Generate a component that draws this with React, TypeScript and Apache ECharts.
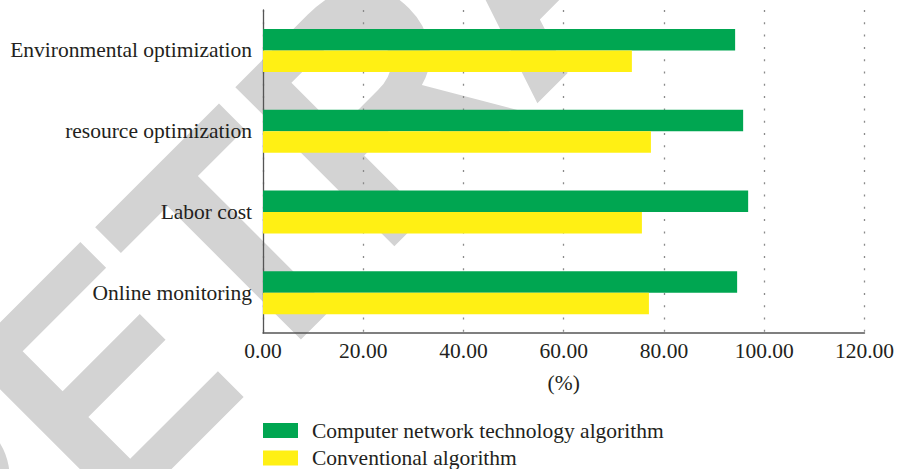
import React, { useEffect, useRef } from "react";
import * as echarts from "echarts";

const categories = [
  "Environmental optimization",
  "resource optimization",
  "Labor cost",
  "Online monitoring",
];
const seriesNames = ["Computer network technology algorithm", "Conventional algorithm"];
const networkValues = [94.2, 95.8, 96.8, 94.6];
const conventionalValues = [73.6, 77.4, 75.6, 77.0];
const xTicks = { min: 0, max: 120, interval: 20 };
const watermarkText = "RETRACTED";

const SERIF = "Liberation Serif, Times New Roman, serif";
const TEXT = "#231f20";
const FS = 21.5;

export default function App() {
  const ref = useRef<HTMLDivElement>(null);
  useEffect(() => {
    document.body.style.margin = "0";
    if (!ref.current) return;
    const chart = echarts.init(ref.current, undefined, { renderer: "svg" });
    chart.setOption({
      animation: false,
      backgroundColor: "#ffffff",
      graphic: {
        z: -100,
        elements: [
          {
            type: "text",
            z: -100,
            silent: true,
            x: -120.5,
            y: 600.5,
            rotation: Math.PI / 4,
            scaleX: 0.91,
            scaleY: 1,
            style: {
              text: watermarkText,
              fontFamily: "Liberation Sans, Arial, sans-serif",
              fontWeight: "bold",
              fontSize: 327,
              fill: "#d3d3d3",
              align: "left",
              verticalAlign: "middle",
            },
          },
        ],
      },
      grid: { left: 263, right: 29, top: 10, bottom: 136, containLabel: false },
      legend: {
        orient: "vertical",
        left: 263,
        top: 419.5,
        height: 80,
        padding: 0,
        itemWidth: 35,
        itemHeight: 15,
        itemGap: 5.5,
        icon: "rect",
        textStyle: { fontFamily: SERIF, fontSize: FS, color: TEXT, padding: [0, 0, 0, 9] },
        data: seriesNames,
      },
      xAxis: {
        type: "value",
        min: xTicks.min,
        max: xTicks.max,
        interval: xTicks.interval,
        name: "(%)",
        nameLocation: "middle",
        nameGap: 39,
        nameTextStyle: { fontFamily: SERIF, fontSize: FS, color: TEXT },
        axisLine: { show: true, lineStyle: { color: "#555555", width: 1.5 } },
        axisTick: { show: false },
        axisLabel: {
          fontFamily: SERIF,
          fontSize: FS,
          color: TEXT,
          margin: 7,
          formatter: (v: number) => v.toFixed(2),
        },
        splitLine: {
          show: true,
          lineStyle: { color: "#8a8a8a", width: 1.3, type: [2, 10.3] },
        },
      },
      yAxis: {
        type: "category",
        inverse: true,
        data: categories,
        axisLine: { show: true, lineStyle: { color: "#555555", width: 1.3 } },
        axisTick: { show: false },
        axisLabel: { fontFamily: SERIF, fontSize: FS, color: TEXT, margin: 11 },
        splitLine: { show: false },
      },
      series: [
        {
          name: seriesNames[0],
          type: "bar",
          data: networkValues,
          barWidth: 21.5,
          barGap: "0%",
          itemStyle: { color: "#00a651" },
        },
        {
          name: seriesNames[1],
          type: "bar",
          data: conventionalValues,
          barWidth: 21.5,
          barGap: "0%",
          itemStyle: { color: "#fff014" },
        },
      ],
    });
    return () => chart.dispose();
  }, []);
  return <div ref={ref} style={{ width: 897, height: 469 }} />;
}
